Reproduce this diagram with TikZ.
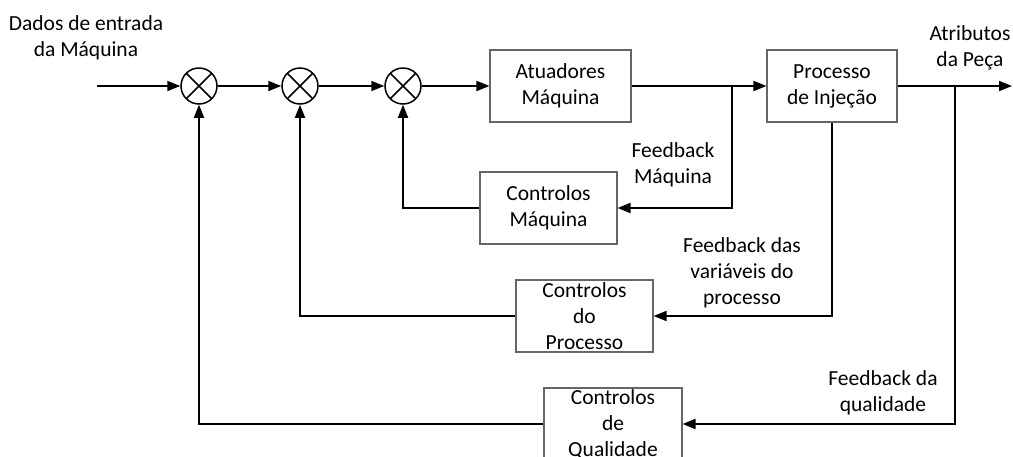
\documentclass[tikz,border=0pt]{standalone}
\usepackage{fontspec}
\setmainfont{Carlito}
\usetikzlibrary{arrows.meta}

\begin{document}
\begin{tikzpicture}[x=1pt,y=-1pt,
  font=\fontsize{21.5}{26}\selectfont,
  bloco/.style={draw=black!60,line width=1.1pt,minimum width=#1,minimum height=72pt,inner sep=0pt,align=center},
  bloco/.default=137pt,
  somador/.style={draw,circle,line width=1.5pt,minimum size=36pt,inner sep=0pt,
    path picture={\draw[line width=1.5pt] (path picture bounding box.south west) -- (path picture bounding box.north east)
      (path picture bounding box.north west) -- (path picture bounding box.south east);}},
  liga/.style={line width=1.8pt,-{Triangle[length=13pt,width=10pt]}},
  rotulo/.style={align=center,inner sep=0pt}]
\useasboundingbox (0,0) rectangle (1013,456);

\coordinate (entrada) at (97,86);
\coordinate (saida) at (1012,86);
\coordinate (ramo1) at (732,86);
\coordinate (ramo2) at (955,86);

\node[somador] (s1) at (199,86) {};
\node[somador] (s2) at (300,86) {};
\node[somador] (s3) at (403,86) {};

\node[bloco=141pt] (atu) at (560.5,86) {Atuadores\\Máquina};
\node[bloco=130pt] (proc) at (832,86) {Processo\\de Injeção};
\node[bloco] (cm) at (548.5,208) {Controlos\\Máquina};
\node[bloco] (cp) at (584.5,316) {Controlos\\do\\Processo};
\node[bloco=138pt] (cq) at (613,424) {Controlos\\de\\Qualidade};

\node[rotulo] (ent) at (86,38) {Dados de entrada\\da Máquina};
\node[rotulo] (atr) at (970,48) {Atributos\\da Peça};
\node[rotulo] (fbm) at (673,165) {Feedback\\Máquina};
\node[rotulo] (fbp) at (742,273) {Feedback das\\variáveis do\\processo};
\node[rotulo] (fbq) at (883,393) {Feedback da\\qualidade};

\draw[liga] (entrada) -- (s1);
\draw[liga] (s1) -- (s2);
\draw[liga] (s2) -- (s3);
\draw[liga] (s3) -- (atu);
\draw[liga] (atu) -- (proc);
\draw[liga] (proc) -- (saida);

\draw[liga] (ramo1) |- (cm.east);
\draw[liga] (cm.west) -| (s3.south);
\draw[liga] (proc.south) |- (cp.east);
\draw[liga] (cp.west) -| (s2.south);
\draw[liga] (ramo2) |- (cq.east);
\draw[liga] (cq.west) -| (s1.south);
\end{tikzpicture}
\end{document}
